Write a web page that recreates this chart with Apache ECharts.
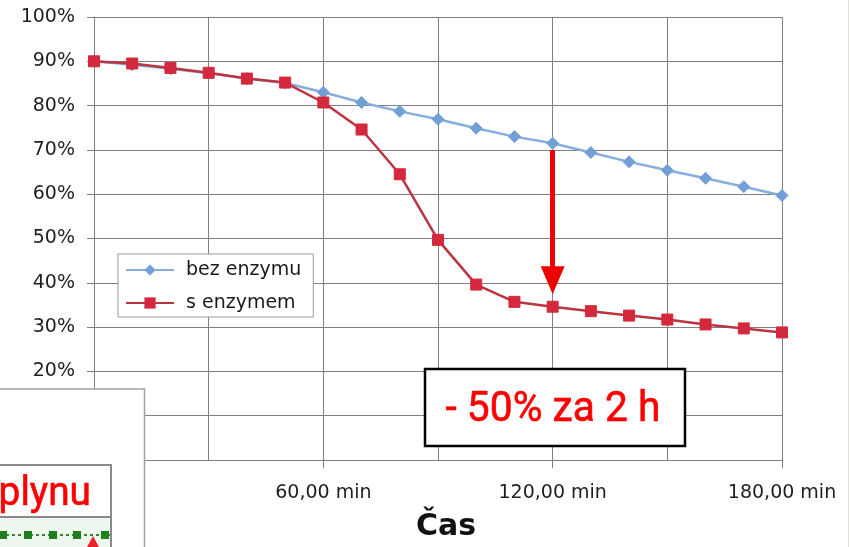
<!DOCTYPE html>
<html>
<head>
<meta charset="utf-8">
<script src="https://cdn.jsdelivr.net/npm/echarts@6/dist/echarts.min.js"></script>
<style>
html,body{margin:0;padding:0;background:#fff;}
#chart{width:850px;height:547px;}
</style>
</head>
<body>
<div id="chart"></div>
<script>
// ---- data ----
const minutes = [0, 10, 20, 30, 40, 50, 60, 70, 80, 90, 100, 110, 120, 130, 140, 150, 160, 170, 180];
const bezEnzymu = [90, 89.2, 88.3, 87.3, 86.1, 85.1, 83, 80.7, 78.7, 76.9, 74.9, 73, 71.5, 69.4, 67.3, 65.4, 63.6, 61.7, 59.7];
const sEnzymem = [90, 89.5, 88.5, 87.4, 86.1, 85.2, 80.7, 74.6, 64.5, 49.7, 39.6, 35.7, 34.6, 33.6, 32.6, 31.7, 30.6, 29.7, 28.8];
const seriesNames = ['bez enzymu', 's enzymem'];
const xLabelSuffix = ',00 min';
const xAxisTitle = 'Čas';
const arrowFrom = [120, 70];
const arrowTo = [120, 40.6];
const annotationText = '- 50% za 2 h';
const insetText = 'plynu';

const gridColor = '#808080';
const labelFont = "'DejaVu Sans', Verdana, sans-serif";
const narrowFont = "Roboto, 'Liberation Sans', sans-serif";

const chart = echarts.init(document.getElementById('chart'), null, {renderer: 'canvas'});

const option = {
  backgroundColor: '#ffffff',
  animation: false,
  grid: {left: 94, right: 68, top: 17, bottom: 85, containLabel: false},
  legend: {
    left: 118, top: 254,
    orient: 'vertical',
    backgroundColor: '#ffffff',
    borderColor: '#999999',
    borderWidth: 1,
    padding: [5, 12, 3, 7],
    itemWidth: 48,
    itemHeight: 14,
    itemGap: 11,
    textStyle: {fontFamily: labelFont, fontSize: 19, color: '#1a1a1a', lineHeight: 22, padding: [0, 0, 0, 7]},
    data: seriesNames
  },
  xAxis: {
    type: 'value', min: 0, max: 180, interval: 60,
    name: xAxisTitle, nameLocation: 'middle', nameGap: 52,
    nameTextStyle: {fontFamily: labelFont, fontSize: 30, fontWeight: 'bold', color: '#111', padding: [0, 0, 0, 16]},
    axisLine: {show: true, lineStyle: {color: gridColor, width: 1}},
    axisTick: {show: true, length: 8, lineStyle: {color: gridColor}},
    axisLabel: {margin: 24, fontFamily: labelFont, fontSize: 19, color: '#1e1e1e',
      formatter: v => v + xLabelSuffix},
    splitLine: {show: true, lineStyle: {color: gridColor, width: 1}},
    minorTick: {show: false, splitNumber: 2},
    minorSplitLine: {show: true, lineStyle: {color: gridColor, width: 1}}
  },
  yAxis: {
    type: 'value', min: 0, max: 100, interval: 10,
    axisLine: {show: true, lineStyle: {color: gridColor, width: 1}},
    axisTick: {show: true, length: 7, lineStyle: {color: gridColor}},
    axisLabel: {margin: 19, fontFamily: labelFont, fontSize: 19, color: '#1e1e1e', formatter: '{value}%'},
    splitLine: {show: true, lineStyle: {color: gridColor, width: 1}}
  },
  series: [
    {
      name: seriesNames[0], type: 'line',
      data: minutes.map((m, i) => [m, bezEnzymu[i]]),
      symbol: 'diamond', symbolSize: 12,
      lineStyle: {color: '#86aede', width: 2.5},
      itemStyle: {color: '#72a0d6', borderColor: '#72a0d6'},
      z: 3
    },
    {
      name: seriesNames[1], type: 'line',
      data: minutes.map((m, i) => [m, sEnzymem[i]]),
      symbol: 'rect', symbolSize: 11,
      lineStyle: {color: '#bb3440', width: 2.5},
      itemStyle: {color: '#d4293d', borderColor: '#d4293d'},
      z: 4,
      markLine: {
        silent: true,
        symbol: ['none', 'triangle'],
        symbolSize: [24, 28],
        label: {show: false},
        lineStyle: {color: '#ee0000', width: 5, type: 'solid'},
        itemStyle: {color: '#ee0000'},
        data: [[{coord: arrowFrom}, {coord: arrowTo}]]
      }
    }
  ],
  graphic: [
    // page edge line
    {type: 'line', shape: {x1: 848.5, y1: 0, x2: 848.5, y2: 547}, style: {stroke: '#e4e4dc', lineWidth: 1}, z: 100},
    // annotation box
    {type: 'rect', shape: {x: 425, y: 369, width: 260, height: 77}, style: {fill: '#ffffff', stroke: '#000000', lineWidth: 2.5}, z: 100},
    {type: 'text', x: 553, y: 410, scaleX: 0.97, style: {text: annotationText, fill: '#ff0000', stroke: '#ff0000', lineWidth: 0.6, font: "42px " + narrowFont, align: 'center', verticalAlign: 'middle'}, z: 101},
    // overlapping inset (part of another chart)
    {type: 'rect', shape: {x: -5, y: 389, width: 149.5, height: 170}, style: {fill: '#ffffff', stroke: '#a0a0a0', lineWidth: 1.5}, z: 100},
    {type: 'rect', shape: {x: -5, y: 517, width: 116, height: 40}, style: {fill: '#eef7ee'}, z: 101},
    {type: 'rect', shape: {x: -5, y: 465, width: 116, height: 100}, style: {fill: 'none', stroke: '#8a8a8a', lineWidth: 2}, z: 102},
    {type: 'line', shape: {x1: -5, y1: 517, x2: 111, y2: 517}, style: {stroke: '#8a8a8a', lineWidth: 2}, z: 102},
    {type: 'text', x: 91, y: 475, scaleX: 0.97, style: {text: insetText, fill: '#ff0000', stroke: '#ff0000', lineWidth: 0.6, font: "40px " + narrowFont, align: 'right', verticalAlign: 'top'}, z: 102},
    {type: 'line', shape: {x1: 0, y1: 535, x2: 110, y2: 535}, style: {stroke: '#2e8b2e', lineWidth: 2, lineDash: [3, 3]}, z: 102},
    {type: 'rect', shape: {x: -1, y: 531, width: 8, height: 8}, style: {fill: '#1f7f1f'}, z: 103},
    {type: 'rect', shape: {x: 24, y: 531, width: 8, height: 8}, style: {fill: '#1f7f1f'}, z: 103},
    {type: 'rect', shape: {x: 49, y: 531, width: 8, height: 8}, style: {fill: '#1f7f1f'}, z: 103},
    {type: 'rect', shape: {x: 73, y: 531, width: 8, height: 8}, style: {fill: '#1f7f1f'}, z: 103},
    {type: 'rect', shape: {x: 101, y: 531, width: 8, height: 8}, style: {fill: '#1f7f1f'}, z: 103},
    {type: 'polygon', shape: {points: [[93, 536], [86, 549], [100, 549]]}, style: {fill: '#e8202a'}, z: 104}
  ]
};

chart.setOption(option);
</script>
</body>
</html>
